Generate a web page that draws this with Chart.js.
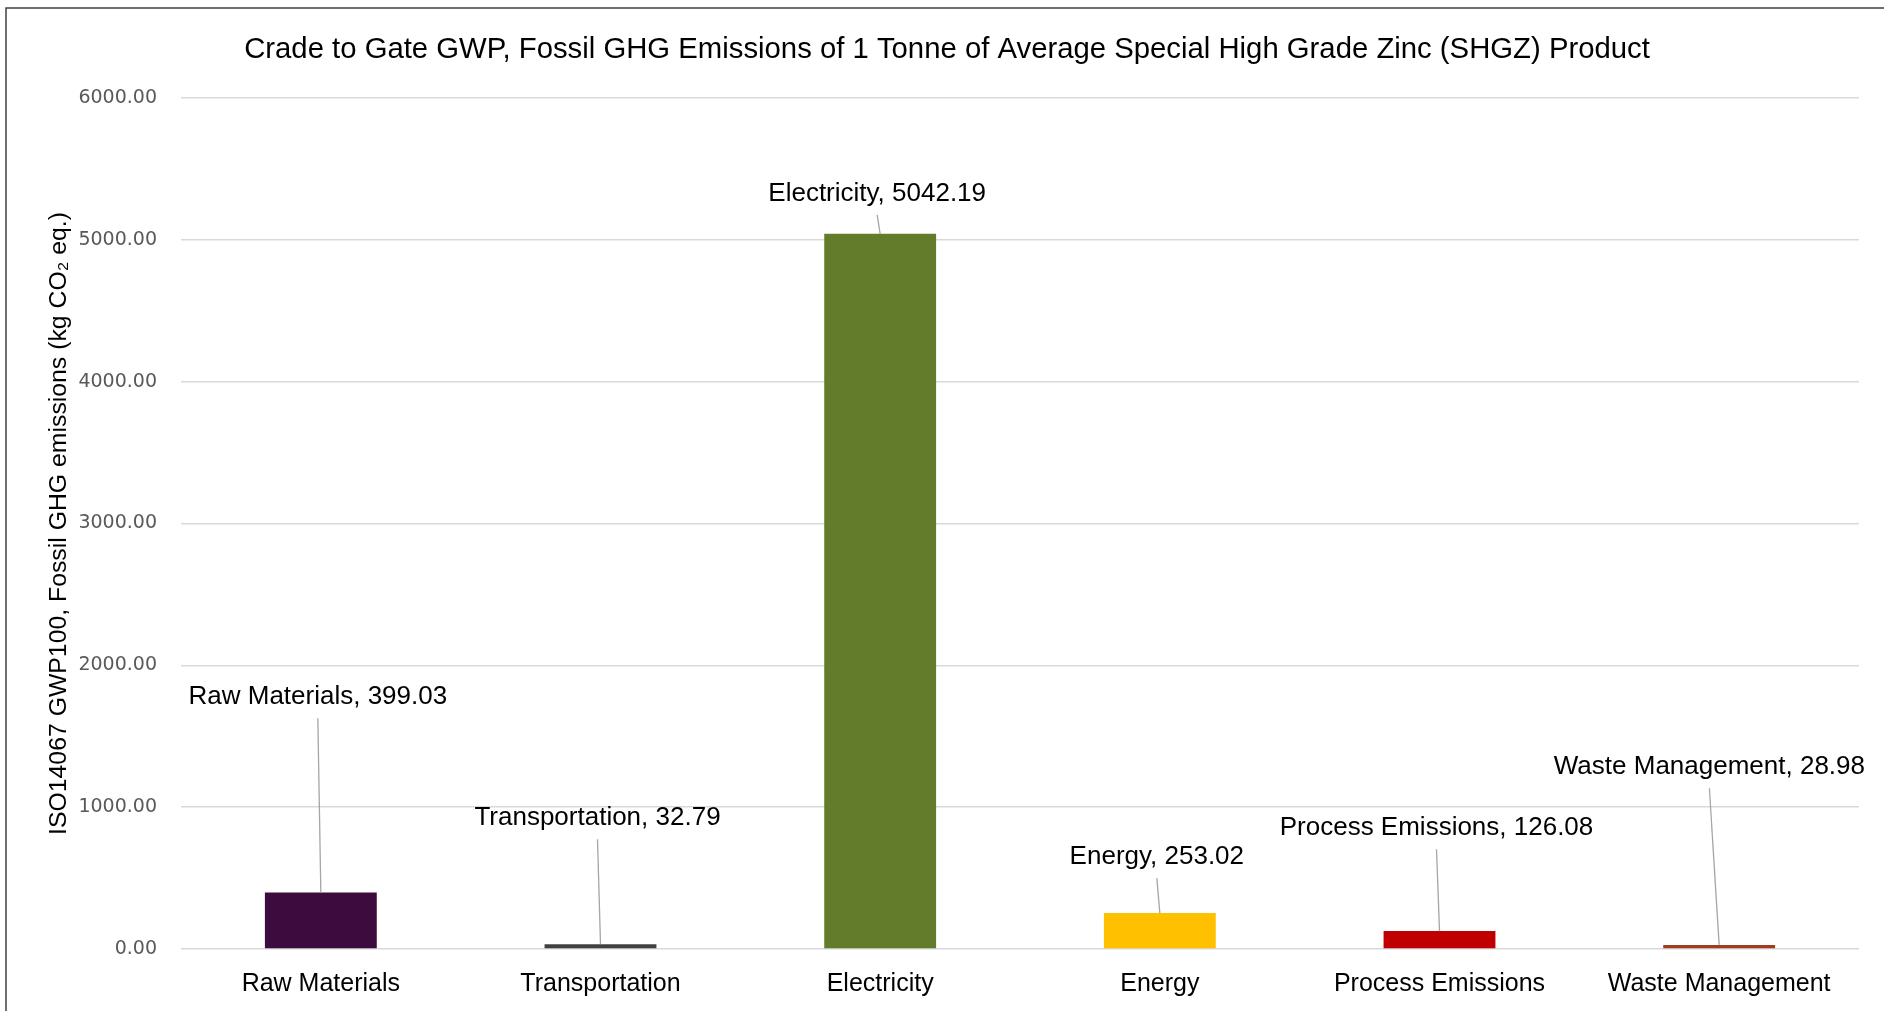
<!DOCTYPE html>
<html>
<head>
<meta charset="utf-8">
<script src="https://cdn.jsdelivr.net/npm/chart.js@4.4.1/dist/chart.umd.min.js"></script>
<style>
  html, body { margin: 0; padding: 0; background: #fff; }
</style>
</head>
<body>
<canvas id="zinc" width="1884" height="1011"></canvas>
<script>
const categories = ['Raw Materials', 'Transportation', 'Electricity', 'Energy', 'Process Emissions', 'Waste Management'];
const emissions = [399.03, 32.79, 5042.19, 253.02, 126.08, 28.98];
const barColors = ['#3e0b3f', '#404040', '#637c2b', '#ffc000', '#c00000', '#9e3d1f'];
const yTicks = [0, 1000, 2000, 3000, 4000, 5000, 6000];
// heights (in kg CO2 eq.) where the callout labels sit
const labelLevels = [1775, 922, 5324, 648, 852, 1282];
const chartTitle = 'Crade to Gate GWP, Fossil GHG Emissions of 1 Tonne of Average Special High Grade Zinc (SHGZ) Product';

const FONT = '"Liberation Sans", Arial, sans-serif';

const calloutLabels = {
  id: 'calloutLabels',
  afterDatasetsDraw(chart) {
    const ctx = chart.ctx;
    const y = chart.scales.y;
    const bars = chart.getDatasetMeta(0).data;
    ctx.save();
    ctx.font = '26px ' + FONT;
    ctx.textAlign = 'center';
    ctx.textBaseline = 'middle';
    bars.forEach((bar, i) => {
      const text = categories[i] + ', ' + emissions[i].toFixed(2);
      const w = ctx.measureText(text).width;
      // nudge a little left like the original, keep inside the plot edge
      const lx = Math.min(bar.x - 3, chart.chartArea.right + 6 - w / 2);
      const ly = y.getPixelForValue(labelLevels[i]);
      ctx.strokeStyle = '#a6a6a6';
      ctx.lineWidth = 1.3;
      ctx.beginPath();
      ctx.moveTo(lx, ly + 21);
      ctx.lineTo(bar.x, bar.y);
      ctx.stroke();
      ctx.fillStyle = '#000';
      ctx.fillText(text, lx, ly);
    });
    ctx.restore();
  }
};

// title centred on the whole canvas (the built-in one centres on the padded box)
const frame = {
  id: 'frame',
  afterDraw(chart) {
    const ctx = chart.ctx;
    ctx.save();
    ctx.fillStyle = '#000';
    ctx.font = '29.3px ' + FONT;
    ctx.textAlign = 'center';
    ctx.textBaseline = 'middle';
    ctx.fillText(chartTitle, chart.width / 2 + 5, 50);
    ctx.strokeStyle = '#404040';
    ctx.lineWidth = 1.5;
    ctx.beginPath();
    ctx.moveTo(6, chart.height);
    ctx.lineTo(6, 8);
    ctx.lineTo(chart.width, 8);
    ctx.stroke();
    ctx.restore();
  }
};

new Chart(document.getElementById('zinc'), {
  type: 'bar',
  data: {
    labels: categories,
    datasets: [{
      data: emissions,
      backgroundColor: barColors,
      barPercentage: 0.4,
      categoryPercentage: 1
    }]
  },
  options: {
    responsive: false,
    animation: false,
    layout: { padding: { left: 0, right: 25, top: 98, bottom: 0 } },
    plugins: {
      legend: { display: false },
      tooltip: { enabled: false },
      title: { display: false }
    },
    scales: {
      x: {
        grid: { display: false },
        border: { display: false },
        ticks: { color: '#000', padding: 12, font: { family: FONT, size: 25 } },
        afterFit: s => { s.height = 62; }
      },
      y: {
        min: 0,
        max: 6000,
        afterBuildTicks: s => { s.ticks = yTicks.map(v => ({ value: v })); },
        grid: { color: '#d9d9d9', lineWidth: 1.5, drawTicks: false },
        border: { display: false },
        ticks: {
          color: '#595959',
          padding: 24,
          font: { family: '"DejaVu Sans", sans-serif', size: 19 },
          callback: v => Number(v).toFixed(2)
        },
        title: {
          display: true,
          text: 'ISO14067 GWP100, Fossil GHG emissions (kg CO\u2082 eq.)',
          color: '#000',
          font: { family: FONT, size: 24.8 },
          padding: { top: 44, bottom: 0 }
        },
        afterFit: s => { s.width = 181; }
      }
    }
  },
  plugins: [calloutLabels, frame]
});
</script>
</body>
</html>
